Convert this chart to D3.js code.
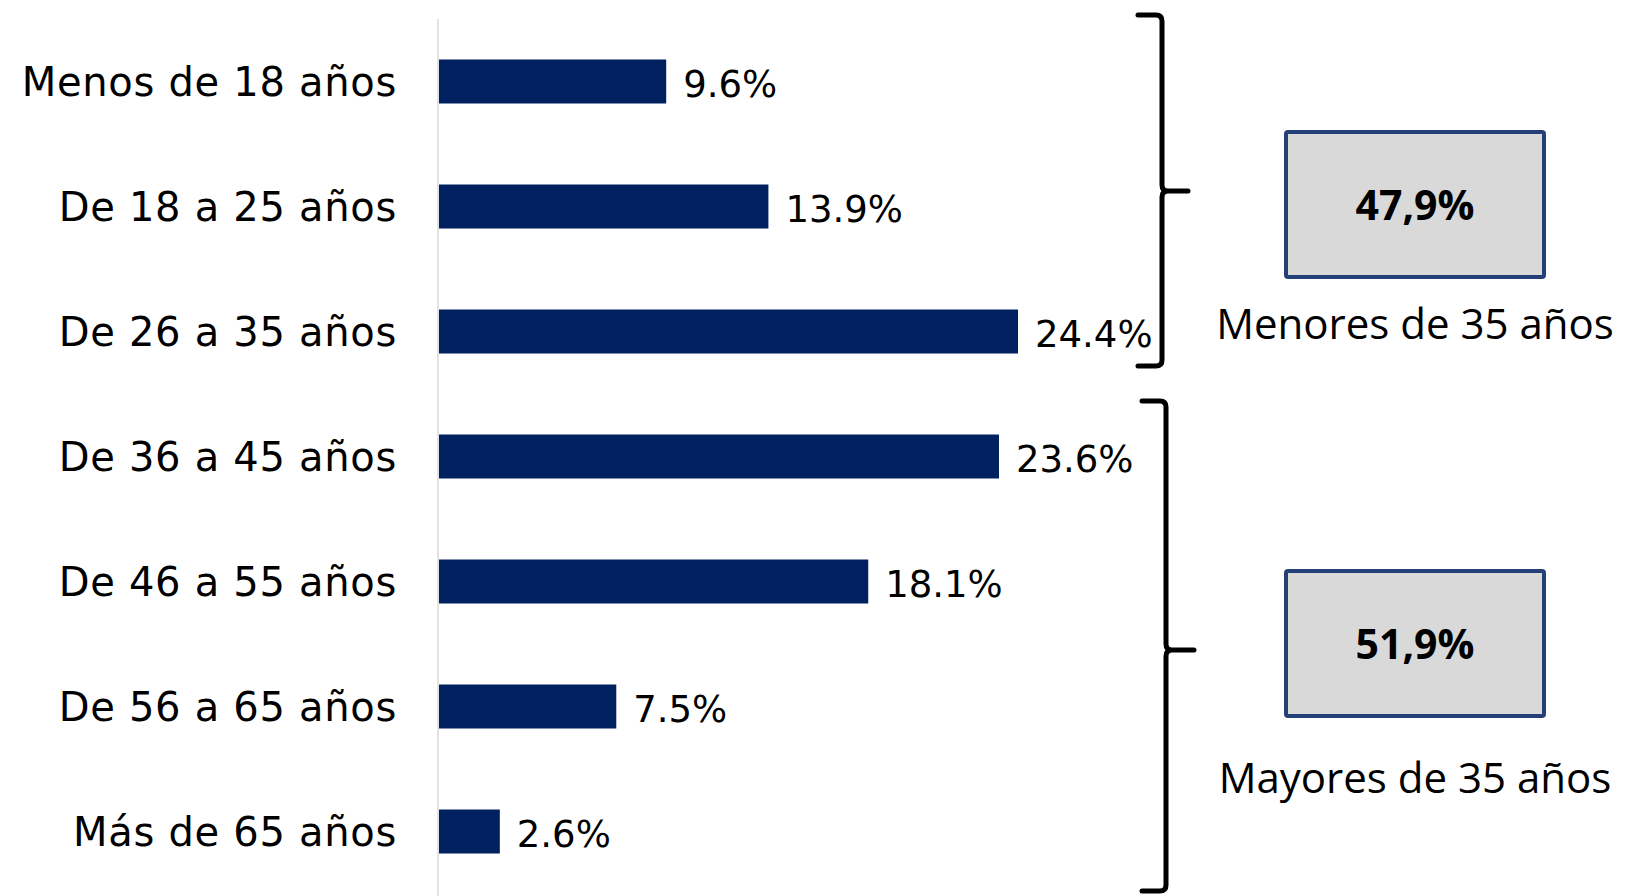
<!DOCTYPE html>
<html>
<head>
<meta charset="utf-8">
<script src="https://cdn.jsdelivr.net/npm/d3@7"></script>
<style>
  body { margin: 0; background: #fff; }
</style>
</head>
<body>
<script>
let categories = ["Menos de 18 años", "De 18 a 25 años", "De 26 a 35 años", "De 36 a 45 años",
                  "De 46 a 55 años", "De 56 a 65 años", "Más de 65 años"];
let values = [9.6, 13.9, 24.4, 23.6, 18.1, 7.5, 2.6];
let groupLabels = ["Menores de 35 años", "Mayores de 35 años"];
let groupTotals = ["47,9%", "51,9%"];

let width = 1625;
let height = 896;
let labelFont = "'DejaVu Sans', sans-serif";
let boxFont = "'Open Sans', 'Noto Sans', sans-serif";

let svg = d3.select("body").append("svg")
    .attr("width", width)
    .attr("height", height);

let x = d3.scaleLinear()
    .domain([0, 24.4])
    .range([438, 1018]);

let y = d3.scaleBand()
    .domain(categories)
    .range([19, 894])
    .paddingInner(0.648)
    .paddingOuter(0.324);

// axis line
svg.append("line")
    .attr("x1", x(0)).attr("x2", x(0))
    .attr("y1", 19).attr("y2", height)
    .attr("stroke", "#d9d9d9")
    .attr("stroke-width", 1.5);

svg.selectAll(".bar")
    .data(values)
    .join("rect")
    .attr("class", "bar")
    .attr("x", x(0) + 1)
    .attr("y", (d, i) => y(categories[i]))
    .attr("width", d => x(d) - x(0) - 1)
    .attr("height", y.bandwidth())
    .attr("fill", "#002060");

svg.selectAll(".catlabel")
    .data(categories)
    .join("text")
    .attr("class", "catlabel")
    .attr("x", 397)
    .attr("y", d => y(d) + y.bandwidth() / 2 + 14)
    .attr("text-anchor", "end")
    .attr("font-family", labelFont)
    .attr("font-size", 40)
    .attr("letter-spacing", 0.7)
    .attr("fill", "#000")
    .text(d => d);

svg.selectAll(".vallabel")
    .data(values)
    .join("text")
    .attr("class", "vallabel")
    .attr("x", d => x(d) + 17)
    .attr("y", (d, i) => y(categories[i]) + y.bandwidth() / 2 + 15)
    .attr("font-family", labelFont)
    .attr("font-size", 37)
    .attr("fill", "#000")
    .text(d => d.toFixed(1) + "%");

// braces
function brace(xb, y0, y1, ym, tip){
    let p = d3.path();
    p.moveTo(xb - 24, y0);
    p.lineTo(xb - 6, y0);
    p.quadraticCurveTo(xb, y0, xb, y0 + 6);
    p.lineTo(xb, ym - 6);
    p.quadraticCurveTo(xb, ym, xb + 6, ym);
    p.lineTo(tip, ym);
    p.moveTo(xb + 6, ym);
    p.quadraticCurveTo(xb, ym, xb, ym + 6);
    p.lineTo(xb, y1 - 6);
    p.quadraticCurveTo(xb, y1, xb - 6, y1);
    p.lineTo(xb - 24, y1);
    svg.append("path")
        .attr("d", p.toString())
        .attr("fill", "none")
        .attr("stroke", "#000")
        .attr("stroke-width", 5)
        .attr("stroke-linecap", "round");
}

brace(1162, 15, 366, 191, 1188);
brace(1166, 401, 891, 650, 1194);

// summary boxes
let boxY = [132, 571];
let labelY = [339, 793];
groupTotals.forEach((t, i) => {
    svg.append("rect")
        .attr("x", 1286).attr("y", boxY[i])
        .attr("width", 258).attr("height", 145)
        .attr("rx", 2)
        .attr("fill", "#d9d9d9")
        .attr("stroke", "#253f77")
        .attr("stroke-width", 4);
    svg.append("text")
        .attr("x", 1415).attr("y", boxY[i] + 88)
        .attr("text-anchor", "middle")
        .attr("font-family", boxFont)
        .attr("font-weight", "bold")
        .attr("font-size", 41)
        .text(t);
    svg.append("text")
        .attr("x", 1415).attr("y", labelY[i])
        .attr("text-anchor", "middle")
        .attr("font-family", boxFont)
        .attr("font-size", 42)
        .text(groupLabels[i]);
});
</script>
</body>
</html>
